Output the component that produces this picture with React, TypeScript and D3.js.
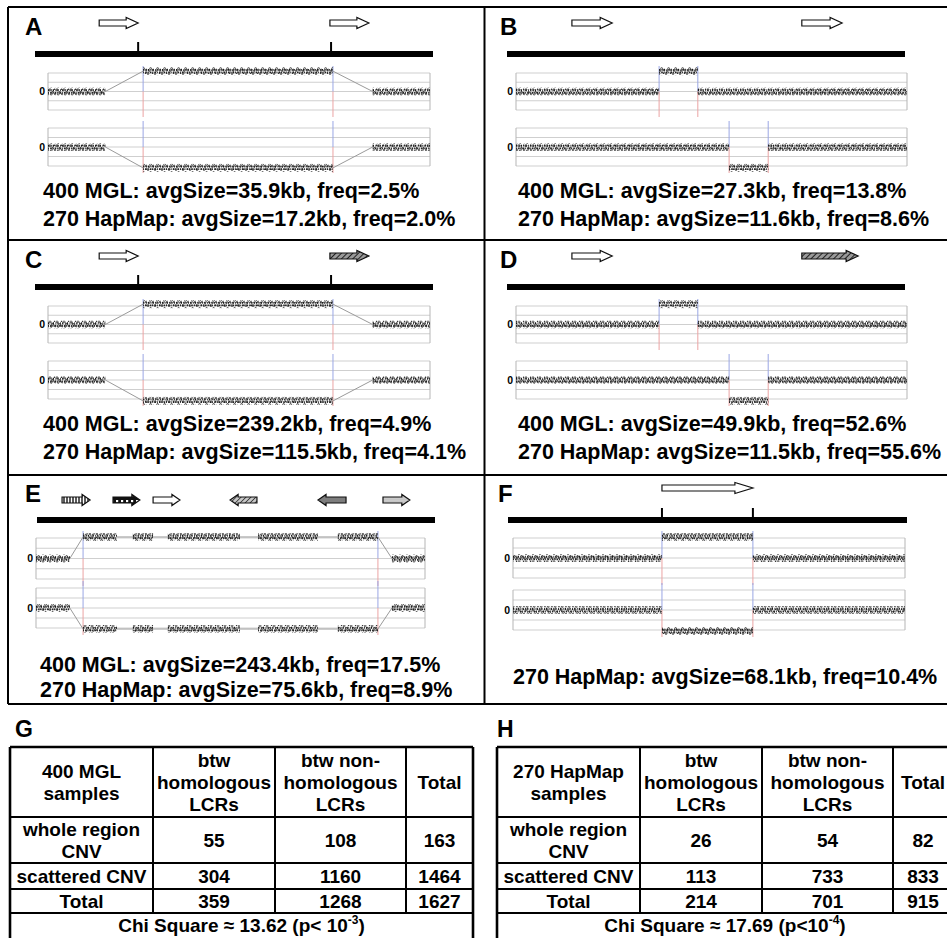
import React from 'react';
import * as d3 from 'd3';

type Seg = [number, number, number];
type Arw = [number, number, string, string];

// ---------- data ----------
const panelLetters = ['A', 'B', 'C', 'D', 'E', 'F'];
const mglSize: (number | null)[] = [35.9, 27.3, 239.2, 49.9, 243.4, null];
const mglFreq: (number | null)[] = [2.5, 13.8, 4.9, 52.6, 17.5, null];
const hapSize = [17.2, 11.6, 115.5, 11.5, 75.6, 68.1];
const hapFreq = [2.0, 8.6, 4.1, 55.6, 8.9, 10.4];

// segments of the upper (gain) and lower (loss) log-ratio plots: [start, end, level]
const gainA: Seg[] = [[0, 15, 0], [24.9, 74.6, 2.2], [85, 100, 0]];
const lossA: Seg[] = [[0, 15, 0], [24.9, 74.6, -2.2], [85, 100, 0]];
const gainB: Seg[] = [[0, 36.6, 0], [36.6, 46.5, 2.2], [46.5, 100, 0]];
const lossB: Seg[] = [[0, 54.5, 0], [54.5, 64.5, -2.2], [64.5, 100, 0]];
const gainC: Seg[] = [[0, 15, 0], [24.9, 74.6, 2.2], [85, 100, 0]];
const lossC: Seg[] = [[0, 15, 0], [24.9, 74.6, -2.2], [85, 100, 0]];
const gainD: Seg[] = [[0, 36.6, 0], [36.6, 46.5, 2.2], [46.5, 100, 0]];
const lossD: Seg[] = [[0, 54.5, 0], [54.5, 64.5, -2.2], [64.5, 100, 0]];
const gainE: Seg[] = [[0, 8.7, 0], [12.1, 20.8, 2.1], [24.9, 30.1, 2.1], [33.9, 52.4, 2.1], [57.1, 72.5, 2.1], [77.6, 87.9, 2.1], [91.5, 100, 0]];
const lossE: Seg[] = [[0, 8.7, 0], [12.1, 20.8, -2.1], [24.9, 30.1, -2.1], [33.9, 52.4, -2.1], [57.1, 72.5, -2.1], [77.6, 87.9, -2.1], [91.5, 100, 0]];
const gainF: Seg[] = [[0, 38, 0], [38, 61.2, 2.1], [61.2, 100, 0]];
const lossF: Seg[] = [[0, 38, 0], [38, 61.2, -2.1], [61.2, 100, 0]];

// LCR arrows: [start, end, direction, fill type]
const arrowsA: Arw[] = [[13.4, 23.6, 'r', 'open'], [73.8, 84.0, 'r', 'open']];
const arrowsB: Arw[] = [[14.3, 24.6, 'r', 'open'], [73.1, 83.4, 'r', 'open']];
const arrowsC: Arw[] = [[13.4, 23.6, 'r', 'open'], [73.8, 84.0, 'r', 'hatch']];
const arrowsD: Arw[] = [[14.3, 24.6, 'r', 'open'], [73.1, 87.5, 'r', 'hatch']];
const arrowsE: Arw[] = [[6.7, 13.9, 'r', 'vstripe'], [19.8, 26.7, 'r', 'checker'], [30.1, 37.0, 'r', 'open'], [49.9, 56.8, 'l', 'diag'], [72.5, 79.7, 'l', 'gray'], [89.2, 96.1, 'r', 'dots']];
const arrowsF: Arw[] = [[38, 61.2, 'r', 'open']];

const ticksA = [23.6, 74.1];
const ticksC = [23.6, 74.1];
const ticksF = [38, 61.2];

const gridLevels = [-2, -1, 0, 1, 2];

// tables
const colHeaders = ['btw\nhomologous\nLCRs', 'btw non-\nhomologous\nLCRs', 'Total'];
const rowLabels = ['whole region\nCNV', 'scattered CNV', 'Total'];
const mglCounts = [[55, 108, 163], [304, 1160, 1464], [359, 1268, 1627]];
const hapCounts = [[26, 54, 82], [113, 733, 833], [214, 701, 915]];
const tableTitles = ['400 MGL\nsamples', '270 HapMap\nsamples'];
const chiValues = ['13.62', '17.69'];
const pExponents = ['-3', '-4'];
const pGap = [' ', ''];

// ---------- layout ----------
const FONT = '"Liberation Sans", Arial, Helvetica, sans-serif';
const rowTops = [7, 240, 475];

interface Layout {
  labelX: number; labelY: number; box: [number, number]; line: [number, number];
  arrowCy: number; head: number; lineY: number; tickTop: number;
  plot1: [number, number]; plot2: [number, number]; textX: number; textY: number[];
}

function layoutFor(i: number): Layout {
  const col = i % 2;
  const row = Math.floor(i / 2);
  const T = rowTops[row];
  if (row < 2) {
    return col === 0
      ? { labelX: 25, labelY: T + 28, box: [48, 430], line: [35, 433], arrowCy: T + 16, head: 12, lineY: T + 47, tickTop: T + 35,
          plot1: [T + 66, T + 103], plot2: [T + 121, T + 159], textX: 43, textY: [T + 191, T + 219] }
      : { labelX: 500, labelY: T + 28, box: [516, 907], line: [507, 905], arrowCy: T + 16, head: 12, lineY: T + 47, tickTop: T + 35,
          plot1: [T + 66, T + 103], plot2: [T + 121, T + 159], textX: 518, textY: [T + 191, T + 219] };
  }
  return col === 0
    ? { labelX: 25, labelY: T + 27, box: [36, 425], line: [37, 435], arrowCy: T + 25, head: 8, lineY: T + 45, tickTop: T + 33,
        plot1: [T + 63, T + 104], plot2: [T + 113, T + 153], textX: 40, textY: [T + 197, T + 222] }
    : { labelX: 498, labelY: T + 27, box: [513, 905], line: [508, 907], arrowCy: T + 13, head: 18, lineY: T + 45, tickTop: T + 33,
        plot1: [T + 63, T + 103], plot2: [T + 115, T + 155], textX: 513, textY: [T + 209] };
}

const gains = [gainA, gainB, gainC, gainD, gainE, gainF];
const losses = [lossA, lossB, lossC, lossD, lossE, lossF];
const arrows = [arrowsA, arrowsB, arrowsC, arrowsD, arrowsE, arrowsF];
const ticks = [ticksA, [], ticksC, [], [], ticksF];
const connected = [true, false, true, false, true, false];

const fills: Record<string, string> = {
  open: '#fff', hatch: 'url(#hatch)', vstripe: 'url(#vstripe)', checker: 'url(#checker)',
  diag: 'url(#diag)', gray: '#7d7d7d', dots: 'url(#lightdots)',
};

function arrowPath(x0: number, x1: number, cy: number, dir: string, head: number) {
  const sh = 3, hh = 5.5;
  const p = d3.path();
  if (dir === 'r') {
    p.moveTo(x0, cy - sh); p.lineTo(x1 - head, cy - sh); p.lineTo(x1 - head, cy - hh); p.lineTo(x1, cy);
    p.lineTo(x1 - head, cy + hh); p.lineTo(x1 - head, cy + sh); p.lineTo(x0, cy + sh);
  } else {
    p.moveTo(x1, cy - sh); p.lineTo(x0 + head, cy - sh); p.lineTo(x0 + head, cy - hh); p.lineTo(x0, cy);
    p.lineTo(x0 + head, cy + hh); p.lineTo(x0 + head, cy + sh); p.lineTo(x1, cy + sh);
  }
  p.closePath();
  return p.toString();
}

function Plot({ x, range, segs, connect }: { x: d3.ScaleLinear<number, number>; range: [number, number]; segs: Seg[]; connect: boolean }) {
  const y = d3.scaleLinear().domain([-2, 2]).range([range[1], range[0]]);
  const [xl, xr] = x.range();
  const altered = segs.filter(s => s[2] !== 0);
  const bps = altered.length ? [altered[0][0], altered[altered.length - 1][1]] : [];
  const mid = (range[0] + range[1]) / 2;
  const line = d3.line<[number, number]>().x(d => x(d[0])).y(d => y(d[1]));
  return (
    <g>
      {gridLevels.map(l => (
        <line key={l} x1={xl} x2={xr} y1={y(l)} y2={y(l)} stroke="#cfcfcf" strokeWidth={1} />
      ))}
      <line x1={xl} x2={xl} y1={y(2)} y2={y(-2)} stroke="#b5b5b5" strokeWidth={1} />
      <line x1={xr} x2={xr} y1={y(2)} y2={y(-2)} stroke="#b5b5b5" strokeWidth={1} />
      {bps.map((b, i) => (
        <g key={i}>
          <line x1={x(b)} x2={x(b)} y1={range[0] - 7} y2={mid} stroke="#9aa6e4" strokeWidth={1} />
          <line x1={x(b)} x2={x(b)} y1={mid} y2={range[1] + 7} stroke="#eba3a3" strokeWidth={1} />
        </g>
      ))}
      {connect && segs.slice(1).map((s, i) => (
        <path key={i} d={line([[segs[i][1], segs[i][2]], [s[0], s[2]]]) || ''} stroke="#9a9a9a" strokeWidth={1} fill="none" />
      ))}
      {segs.map((s, i) => (
        <g key={i}>
          <rect x={x(s[0])} width={x(s[1]) - x(s[0])} y={y(s[2]) - 4} height={8} fill="url(#scatter)" />
          <path d={line([[s[0], s[2]], [s[1], s[2]]]) || ''} transform="translate(0,-1.3)" stroke="#1a1a1a" strokeWidth={1.9} strokeDasharray="1.3 1.5 0.8 1.1" fill="none" />
          <path d={line([[s[0], s[2]], [s[1], s[2]]]) || ''} transform="translate(0,1.3)" stroke="#222" strokeWidth={1.8} strokeDasharray="0.9 1.2 1.6 0.9" fill="none" />
        </g>
      ))}
      <text x={xl - 3} y={y(0) + 3.5} fontSize={10.5} fontWeight="bold" textAnchor="end" fontFamily={FONT}>0</text>
    </g>
  );
}

function Panel({ i }: { i: number }) {
  const L = layoutFor(i);
  const x = d3.scaleLinear().domain([0, 100]).range(L.box);
  const texts: string[] = [];
  if (mglSize[i] != null) texts.push(`400 MGL: avgSize=${(mglSize[i] as number).toFixed(1)}kb, freq=${(mglFreq[i] as number).toFixed(1)}%`);
  texts.push(`270 HapMap: avgSize=${hapSize[i].toFixed(1)}kb, freq=${hapFreq[i].toFixed(1)}%`);
  return (
    <g>
      <text x={L.labelX} y={L.labelY} fontSize={24} fontWeight="bold" fontFamily={FONT}>{panelLetters[i]}</text>
      {arrows[i].map((a, k) => (
        <path key={k} d={arrowPath(x(a[0]), x(a[1]), L.arrowCy, a[2], L.head)} fill={fills[a[3]]} stroke="#111" strokeWidth={1.2} strokeLinejoin="miter" />
      ))}
      <line x1={L.line[0]} x2={L.line[1]} y1={L.lineY} y2={L.lineY} stroke="#000" strokeWidth={6} />
      {ticks[i].map((t, k) => (
        <line key={k} x1={x(t)} x2={x(t)} y1={L.tickTop} y2={L.lineY} stroke="#000" strokeWidth={2} />
      ))}
      <Plot x={x} range={L.plot1} segs={gains[i]} connect={connected[i]} />
      <Plot x={x} range={L.plot2} segs={losses[i]} connect={connected[i]} />
      {texts.map((t, k) => (
        <text key={k} x={L.textX} y={L.textY[k]} fontSize={21.5} fontWeight="bold" fontFamily={FONT}>{t}</text>
      ))}
    </g>
  );
}

const colEdgesG = [10, 153, 275, 406, 473];
const colEdgesH = [497, 640, 762, 893, 953];
const rowEdges = [747, 817, 863, 889, 913, 950];

function MultiText({ cx, cy, text }: { cx: number; cy: number; text: string }) {
  const lines = text.split('\n');
  const lh = 22;
  const first = cy + 7 - ((lines.length - 1) * lh) / 2;
  return (
    <text textAnchor="middle" fontSize={19} fontWeight="bold" fontFamily={FONT}>
      {lines.map((l, k) => (
        <tspan key={k} x={cx} y={first + k * lh}>{l}</tspan>
      ))}
    </text>
  );
}

function Table({ t }: { t: number }) {
  const xs = t === 0 ? colEdgesG : colEdgesH;
  const counts = t === 0 ? mglCounts : hapCounts;
  const cells: React.ReactNode[] = [];
  const cxs = xs.slice(0, -1).map((c, k) => (c + xs[k + 1]) / 2);
  const cys = rowEdges.slice(0, -1).map((r, k) => (r + rowEdges[k + 1]) / 2);
  cells.push(<MultiText key="title" cx={cxs[0]} cy={cys[0]} text={tableTitles[t]} />);
  colHeaders.forEach((h, k) => cells.push(<MultiText key={'h' + k} cx={cxs[k + 1]} cy={cys[0]} text={h} />));
  rowLabels.forEach((r, ri) => {
    cells.push(<MultiText key={'r' + ri} cx={cxs[0]} cy={cys[ri + 1]} text={r} />);
    counts[ri].forEach((v, ci) => cells.push(<MultiText key={`c${ri}-${ci}`} cx={cxs[ci + 1]} cy={cys[ri + 1]} text={String(v)} />));
  });
  const left = xs[0], right = xs[xs.length - 1];
  return (
    <g>
      <text x={t === 0 ? 15 : 497} y={737} fontSize={23} fontWeight="bold" fontFamily={FONT}>{t === 0 ? 'G' : 'H'}</text>
      {rowEdges.slice(0, -1).map((r, k) => (
        <line key={'hl' + k} x1={left} x2={right} y1={r} y2={r} stroke="#000" strokeWidth={k === 0 ? 2.6 : 2} />
      ))}
      <line x1={left} x2={left} y1={rowEdges[0]} y2={950} stroke="#000" strokeWidth={2.6} />
      <line x1={right} x2={right} y1={rowEdges[0]} y2={950} stroke="#000" strokeWidth={2.6} />
      {xs.slice(1, -1).map((c, k) => (
        <line key={'vl' + k} x1={c} x2={c} y1={rowEdges[0]} y2={rowEdges[4]} stroke="#000" strokeWidth={2} />
      ))}
      {cells}
      <text x={(left + right) / 2} y={932} textAnchor="middle" fontSize={19} fontWeight="bold" fontFamily={FONT}>
        {`Chi Square \u2248 ${chiValues[t]} (p<${pGap[t]}10`}
        <tspan dy={-8} fontSize={12}>{pExponents[t]}</tspan>
        <tspan dy={8}>)</tspan>
      </text>
    </g>
  );
}

export default function App() {
  return (
    <svg width={947} height={938} style={{ position: 'absolute', left: 0, top: 0, background: '#fff' }} xmlns="http://www.w3.org/2000/svg">
      <defs>
        <pattern id="scatter" width="7" height="8" patternUnits="userSpaceOnUse">
          <circle cx={1} cy={1.6} r={0.9} fill="none" stroke="#111" strokeWidth={0.7} />
          <circle cx={3.6} cy={4.4} r={0.9} fill="none" stroke="#111" strokeWidth={0.7} />
          <circle cx={5.6} cy={1.2} r={0.8} fill="#222" />
          <circle cx={2.2} cy={6.6} r={0.8} fill="none" stroke="#111" strokeWidth={0.7} />
          <circle cx={6.2} cy={6.0} r={0.9} fill="none" stroke="#111" strokeWidth={0.7} />
        </pattern>
        <pattern id="hatch" width="4" height="4" patternUnits="userSpaceOnUse" patternTransform="rotate(45)">
          <rect width="4" height="4" fill="#9a9a9a" />
          <line x1="0" y1="0" x2="0" y2="4" stroke="#222" strokeWidth="2" />
        </pattern>
        <pattern id="diag" width="3.5" height="3.5" patternUnits="userSpaceOnUse" patternTransform="rotate(45)">
          <rect width="3.5" height="3.5" fill="#c8c8c8" />
          <line x1="0" y1="0" x2="0" y2="3.5" stroke="#333" strokeWidth="1.6" />
        </pattern>
        <pattern id="vstripe" width="3" height="3" patternUnits="userSpaceOnUse">
          <rect width="3" height="3" fill="#fff" />
          <line x1="1" y1="0" x2="1" y2="3" stroke="#222" strokeWidth="1.5" />
        </pattern>
        <pattern id="checker" width="5" height="6" patternUnits="userSpaceOnUse">
          <rect width="5" height="6" fill="#111" />
          <rect x="1" y="2" width="2.2" height="2.2" fill="#fff" />
        </pattern>
        <pattern id="lightdots" width="2" height="2" patternUnits="userSpaceOnUse">
          <rect width="2" height="2" fill="#d8d8d8" />
          <circle cx="1" cy="1" r="0.5" fill="#888" />
        </pattern>
      </defs>
      <rect width={947} height={938} fill="#fff" />
      <g stroke="#000" strokeWidth={2}>
        <line x1={8} x2={947} y1={7} y2={7} />
        <line x1={8} x2={947} y1={240} y2={240} />
        <line x1={8} x2={947} y1={475} y2={475} />
        <line x1={8} x2={947} y1={704} y2={704} />
        <line x1={8} x2={8} y1={7} y2={704} />
        <line x1={484.5} x2={484.5} y1={7} y2={704} />
      </g>
      {panelLetters.map((_, i) => <Panel key={i} i={i} />)}
      <Table t={0} />
      <Table t={1} />
    </svg>
  );
}
